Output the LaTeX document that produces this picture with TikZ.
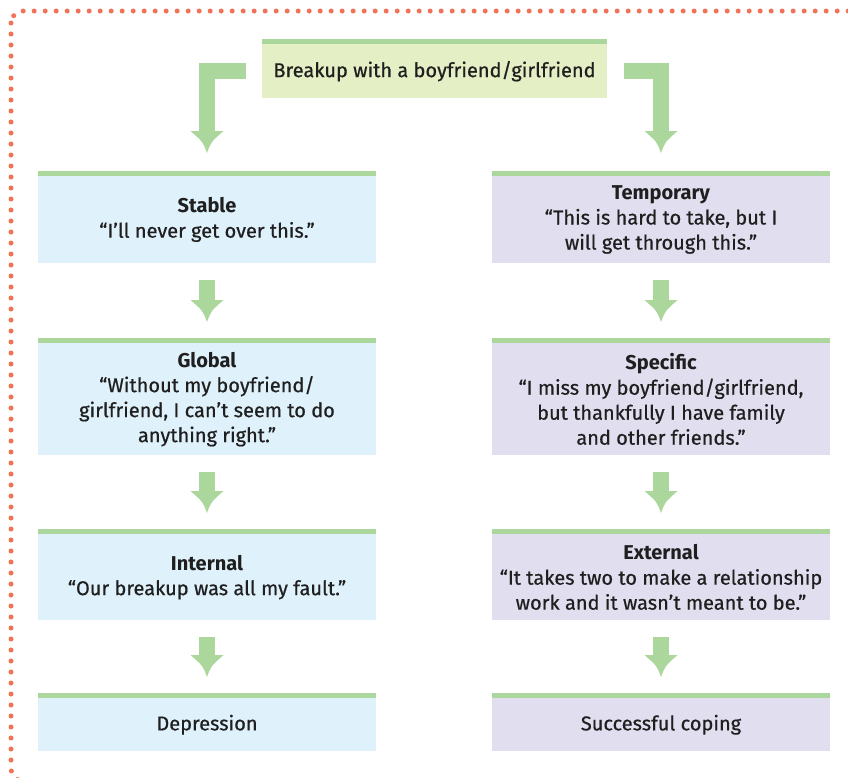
\documentclass[tikz,border=0pt]{standalone}
\usepackage{fontspec}
\setmainfont{Fira Sans}[UprightFeatures={FakeBold=0.6}]
\definecolor{flowgreen}{RGB}{171,214,156}
\definecolor{causeblue}{RGB}{223,241,251}
\definecolor{causelilac}{RGB}{224,222,239}
\definecolor{eventlime}{RGB}{229,239,197}
\definecolor{dotred}{RGB}{242,114,86}

\begin{document}
\begin{tikzpicture}[x=1pt, y=-1pt, every node/.style={font=\fontsize{20}{25}\selectfont, text=black!88},
	bar/.style={label={[fill=flowgreen, inner sep=0pt, minimum height=5pt, minimum width=#1, anchor=south]north:}},
	box/.style={fill=#1, bar=338pt, anchor=north, align=center, minimum width=338pt, inner sep=0pt},
	flow/.style={draw=flowgreen, line width=16pt},
	head/.pic={\fill[flowgreen] (0,0) .. controls (-4,-11) .. (-16.5,-22) -- (16.5,-22) .. controls (4,-11) .. (0,0) -- cycle;}]
	\useasboundingbox (0,0) rectangle (848,777);
	\draw[dotred, line width=5pt, line cap=round, dash pattern=on 0pt off 11pt, rounded corners=12pt] (11,11) rectangle (900,781);
	% trigger
	\node[box=eventlime, bar=345pt, minimum width=345pt, minimum height=54pt] (top) at (434.5,44) {Breakup with a boyfriend/girlfriend};
	% pessimistic column
	\node[box=causeblue, minimum height=87pt] (s1) at (207,176) {\textbf{Stable}\\“I’ll never get over this.”};
	\node[box=causeblue, minimum height=112pt] (g1) at (207,343) {\textbf{Global}\\“Without my boyfriend/\\girlfriend, I can’t seem to do\\anything right.”};
	\node[box=causeblue, minimum height=86pt] (i1) at (207,534) {\textbf{Internal}\\“Our breakup was all my fault.”};
	\node[box=causeblue, minimum height=53pt] (d1) at (207,698) {Depression};
	% optimistic column
	\node[box=causelilac, minimum height=87pt] (s2) at (661,176) {\textbf{Temporary}\\“This is hard to take, but I\\will get through this.”};
	\node[box=causelilac, minimum height=112pt] (g2) at (661,343) {\textbf{Specific}\\“I miss my boyfriend/girlfriend,\\but thankfully I have family\\and other friends.”};
	\node[box=causelilac, minimum height=86pt] (i2) at (661,534) {\textbf{External}\\“It takes two to make a relationship\\work and it wasn’t meant to be.”};
	\node[box=causelilac, minimum height=53pt] (d2) at (661,698) {Successful coping};
	% arrows
	\draw[flow] ([xshift=-16pt]top.west) -| ([yshift=44pt]s1.north);
	\pic at ([yshift=23pt]s1.north) {head};
	\draw[flow] ([xshift=17pt]top.east) -| ([yshift=44pt]s2.north);
	\pic at ([yshift=23pt]s2.north) {head};
	\draw[flow] ([yshift=-17pt]s1.south) -- ([yshift=42pt]g1.north);
	\pic at ([yshift=21pt]g1.north) {head};
	\draw[flow] ([yshift=-17pt]g1.south) -- ([yshift=42pt]i1.north);
	\pic at ([yshift=21pt]i1.north) {head};
	\draw[flow] ([yshift=-17pt]i1.south) -- ([yshift=42pt]d1.north);
	\pic at ([yshift=21pt]d1.north) {head};
	\draw[flow] ([yshift=-17pt]s2.south) -- ([yshift=42pt]g2.north);
	\pic at ([yshift=21pt]g2.north) {head};
	\draw[flow] ([yshift=-17pt]g2.south) -- ([yshift=42pt]i2.north);
	\pic at ([yshift=21pt]i2.north) {head};
	\draw[flow] ([yshift=-17pt]i2.south) -- ([yshift=42pt]d2.north);
	\pic at ([yshift=21pt]d2.north) {head};
\end{tikzpicture}
\end{document}
